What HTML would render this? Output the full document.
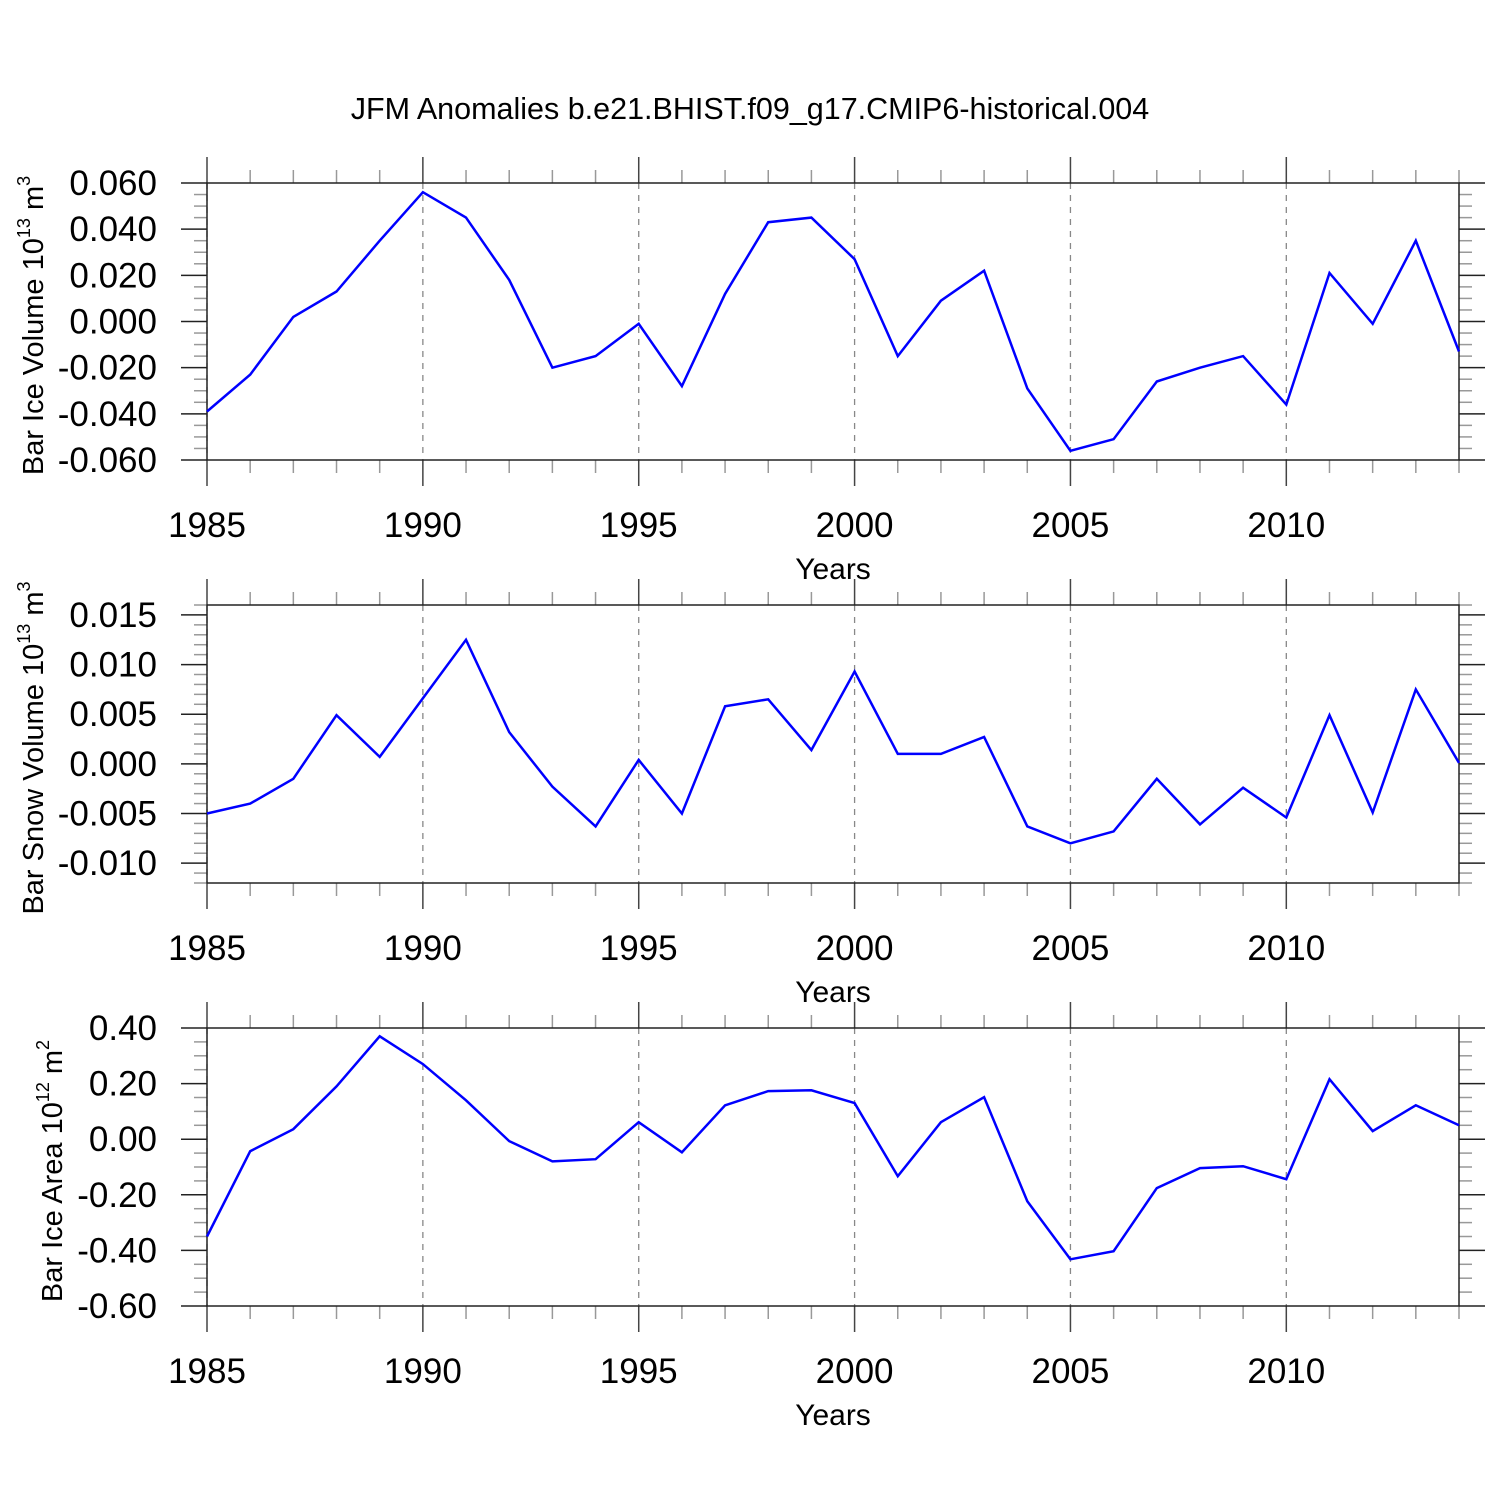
<!DOCTYPE html>
<html><head><meta charset="utf-8"><style>body{margin:0;background:#fff}svg{display:block}text{font-family:"Liberation Sans",sans-serif}</style></head>
<body>
<svg id="c" width="1500" height="1500" xmlns="http://www.w3.org/2000/svg">
<text x="750" y="119" font-size="30.5" text-anchor="middle">JFM Anomalies b.e21.BHIST.f09_g17.CMIP6-historical.004</text>
</svg>
<script>
const years = [1985,1986,1987,1988,1989,1990,1991,1992,1993,1994,1995,1996,1997,1998,1999,2000,2001,2002,2003,2004,2005,2006,2007,2008,2009,2010,2011,2012,2013,2014];
const iceVolume = [-0.039,-0.023,0.002,0.013,0.035,0.056,0.045,0.018,-0.020,-0.015,-0.001,-0.028,0.012,0.043,0.045,0.027,-0.015,0.009,0.022,-0.029,-0.056,-0.051,-0.026,-0.020,-0.015,-0.036,0.021,-0.001,0.035,-0.013];
const snowVolume = [-0.005,-0.004,-0.0015,0.0049,0.0007,0.0066,0.0125,0.0032,-0.0023,-0.0063,0.0004,-0.005,0.0058,0.0065,0.0014,0.0093,0.001,0.001,0.0027,-0.0063,-0.008,-0.0068,-0.0015,-0.0061,-0.0024,-0.0054,0.0049,-0.0049,0.0075,0.0001];
const iceArea = [-0.35,-0.043,0.036,0.19,0.37,0.27,0.14,-0.007,-0.08,-0.072,0.061,-0.047,0.122,0.173,0.176,0.13,-0.133,0.061,0.151,-0.223,-0.432,-0.403,-0.176,-0.104,-0.097,-0.144,0.216,0.029,0.122,0.05];
const xTicks = [1985,1990,1995,2000,2005,2010];
const iceVolTicks = [-0.06,-0.04,-0.02,0,0.02,0.04,0.06];
const snowTicks = [-0.01,-0.005,0,0.005,0.01,0.015];
const areaTicks = [-0.6,-0.4,-0.2,0,0.2,0.4];

const svg=document.getElementById('c');const NS='http://www.w3.org/2000/svg';
function el(t,a,p){const e=document.createElementNS(NS,t);for(const k in a)e.setAttribute(k,a[k]);(p||svg).appendChild(e);return e;}
const X0=207,X1=1459;
function xs(y){return X0+(y-1985)/(2014-1985)*(X1-X0);}
const panels=[
 {top:183,bot:460,min:-0.06,max:0.06,ticks:iceVolTicks,minor:0.005,dec:3,data:iceVolume,title:'Bar Ice Volume 10',sup:'13',unit:' m',usup:'3',tx:33,name:'ice-volume'},
 {top:605,bot:883,min:-0.012,max:0.016,ticks:snowTicks,minor:0.001,dec:3,data:snowVolume,title:'Bar Snow Volume 10',sup:'13',unit:' m',usup:'3',tx:33,name:'snow-volume'},
 {top:1028,bot:1306,min:-0.6,max:0.4,ticks:areaTicks,minor:0.05,dec:2,data:iceArea,title:'Bar Ice Area 10',sup:'12',unit:' m',usup:'2',tx:52,name:'ice-area'}];
panels.forEach(p=>{
 const g=el('g',{});  
 const ys=v=>p.bot-(v-p.min)/(p.max-p.min)*(p.bot-p.top);
 xTicks.forEach(t=>{const l=el('line',{x1:xs(t),x2:xs(t),y1:p.top,y2:p.bot,stroke:'#888','stroke-width':1.3,'stroke-dasharray':'6,6'},g);
   });
 for(let y=1985;y<=2014;y++){const maj=xTicks.includes(y);const len=maj?26:13;
  el('line',{x1:xs(y),x2:xs(y),y1:p.top,y2:p.top-len,stroke:maj?'#444':'#999','stroke-width':1.5},g);
  el('line',{x1:xs(y),x2:xs(y),y1:p.bot,y2:p.bot+len,stroke:maj?'#444':'#999','stroke-width':1.5},g);}
 const n=Math.round((p.max-p.min)/p.minor);
 for(let i=0;i<=n;i++){const v=p.min+i*p.minor;const maj=p.ticks.some(t=>Math.abs(t-v)<1e-9);const len=maj?26:13;const y=ys(v);
  el('line',{x1:X0,x2:X0-len,y1:y,y2:y,stroke:maj?'#222':'#999','stroke-width':1.5},g);
  el('line',{x1:X1,x2:X1+len,y1:y,y2:y,stroke:maj?'#222':'#999','stroke-width':1.5},g);}
 p.ticks.forEach(t=>{const tx=el('text',{x:157,y:ys(t)+12,'font-size':35,'text-anchor':'end'},g);tx.textContent=t.toFixed(p.dec);
   });
 xTicks.forEach(t=>{const tx=el('text',{x:xs(t),y:p.bot+77,'font-size':35,'text-anchor':'middle'},g);tx.textContent=t;
   });
 const xt=el('text',{x:833,y:p.bot+119,'font-size':30,'text-anchor':'middle'},g);xt.textContent='Years';
  
 const fr=el('rect',{x:X0,y:p.top,width:X1-X0,height:p.bot-p.top,fill:'none',stroke:'#222','stroke-width':1.5},g);
  
 const cy=(p.top+p.bot)/2+4;
 const yt=el('text',{x:p.tx,y:cy,'font-size':29,'text-anchor':'middle',transform:`rotate(-90 ${p.tx} ${cy})`,dy:'10'},g);
  
 yt.innerHTML=`${p.title}<tspan font-size="18" dy="-13">${p.sup}</tspan><tspan dy="13">${p.unit}</tspan><tspan font-size="18" dy="-13">${p.usup}</tspan>`;
 const pts=years.map((y,i)=>xs(y).toFixed(1)+','+ys(p.data[i]).toFixed(1)).join(' ');
 const pl=el('polyline',{points:pts,fill:'none',stroke:'#0000ff','stroke-width':2.5,'stroke-linejoin':'miter'},g);
  
});
</script>
</body></html>
